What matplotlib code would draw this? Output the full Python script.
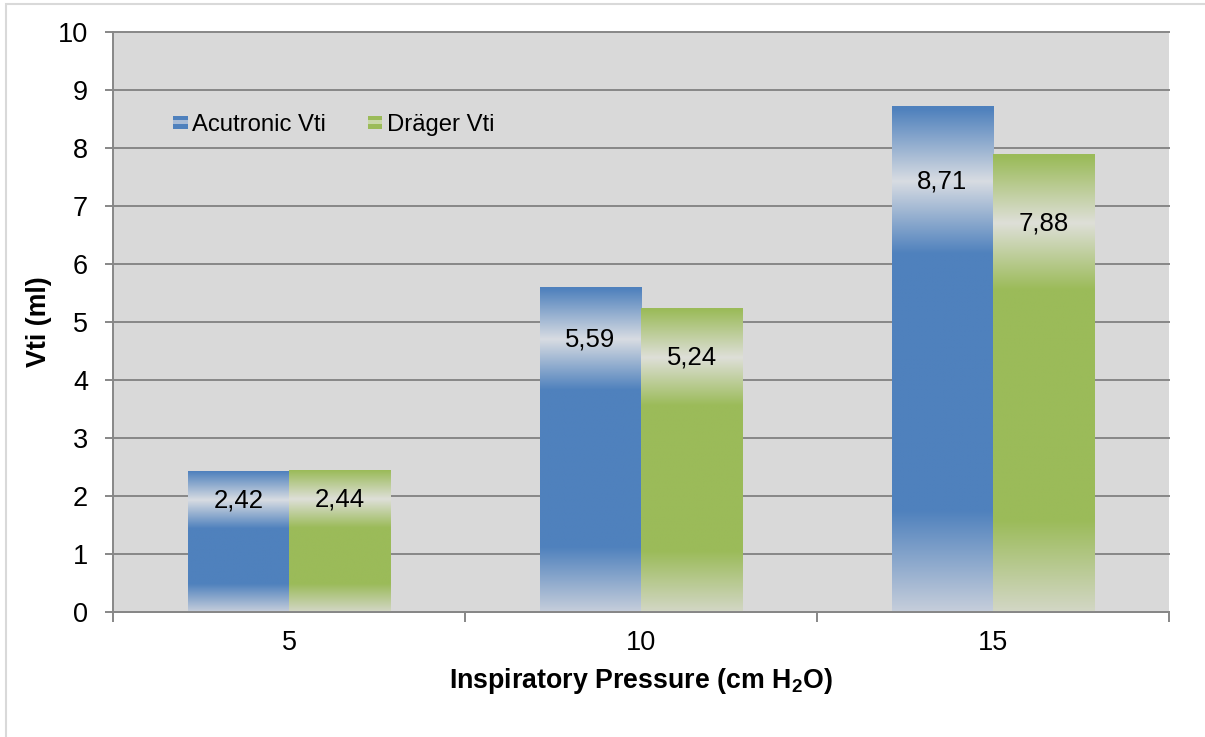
import numpy as np
import matplotlib
matplotlib.use('Agg')
import matplotlib.pyplot as plt
from matplotlib.colors import to_rgb
from matplotlib.patches import Rectangle, Patch
from matplotlib.legend_handler import HandlerBase

# data
pressures = ['5', '10', '15']
acutronic = [2.42, 5.59, 8.71]
drager = [2.44, 5.24, 7.88]
series_names = ['Acutronic Vti', 'Dräger Vti']

blue, blue_band, blue_bottom = '#4f81bd', '#d8dce2', '#c6cedb'
green, green_band, green_bottom = '#9bbb59', '#dedfd8', '#d3d7c6'

plt.rcParams['font.family'] = ['Liberation Sans', 'DejaVu Sans']
plt.rcParams['mathtext.fontset'] = 'custom'
plt.rcParams['mathtext.rm'] = 'Liberation Sans:bold'
plt.rcParams['mathtext.bf'] = 'Liberation Sans:bold'

fig = plt.figure(figsize=(12.05, 7.37), dpi=100)
ax = fig.add_axes([113 / 1205, 1 - 612 / 737, 1056 / 1205, 580 / 737])
ax.set_facecolor('#d9d9d9')

# light grey frame round the whole chart
fig.patches.append(Rectangle((6 / 1205, -0.02), 1.1, 1.02 - 4 / 737, transform=fig.transFigure,
                             fill=False, ec='#d9d9d9', lw=1.5))


def label_pos(v):
    # excel labels sit in the light band of each bar
    return 0.874 * v - 0.19


def shade(bar, v, solid, band, bottom):
    x0, x1 = bar.get_x(), bar.get_x() + bar.get_width()
    lab = label_pos(v)
    hw = 0.12 * v + 0.2
    stops = [0, 0.2 * v, lab - hw, lab, min(lab + hw, v), v]
    cols = [bottom, solid, solid, band, solid, solid]
    ys = np.linspace(0, v, 500)
    rgb = np.array([np.interp(ys, stops, [to_rgb(c)[i] for c in cols]) for i in range(3)]).T
    ax.imshow(rgb[:, None, :], extent=(x0, x1, 0, v), origin='lower', aspect='auto',
              interpolation='bilinear', zorder=2)


x = np.arange(len(pressures))
w = 0.287
for offs, vals, c, cb, cbot in [(-w / 2, acutronic, blue, blue_band, blue_bottom),
                                (w / 2, drager, green, green_band, green_bottom)]:
    bars = ax.bar(x + offs, vals, w, color='none', zorder=2)
    for b, v in zip(bars, vals):
        shade(b, v, c, cb, cbot)
        ax.text(b.get_x() + b.get_width() / 2, label_pos(v), f'{v:.2f}'.replace('.', ','),
                ha='center', va='center', fontsize=18.5, zorder=3)

ax.set_xlim(-0.5, 2.5)
ax.set_ylim(0, 10)
ax.set_yticks(range(11))
ax.set_xticks(x, pressures)
ax.set_xticks([-0.5, 0.5, 1.5, 2.5], minor=True)

gc = '#878787'
ax.set_axisbelow(True)
ax.yaxis.grid(True, color=gc, lw=1.4, zorder=1)
for gl in ax.get_ygridlines():
    gl.set_clip_on(False)
for s in ['top', 'right']:
    ax.spines[s].set_visible(False)
for s in ['left', 'bottom']:
    ax.spines[s].set_color(gc)
    ax.spines[s].set_linewidth(1.4)

ax.tick_params(axis='y', length=6, width=1.4, color=gc, pad=12, labelsize=19.5)
ax.tick_params(axis='x', which='major', length=0, pad=13, labelsize=19.5)
ax.tick_params(axis='x', which='minor', length=7, width=1.4, color=gc)

ax.set_xlabel('Inspiratory Pressure (cm H$_\\mathbf{2}$O)', fontsize=19.3, fontweight='bold', labelpad=7)
ax.set_ylabel('Vti (ml)', fontsize=19.3, fontweight='bold', labelpad=4)


class BandHandler(HandlerBase):
    def create_artists(self, legend, orig_handle, xdescent, ydescent, width, height, fontsize, trans):
        solid = orig_handle.get_facecolor()
        light = orig_handle.get_edgecolor()
        h = height / 3
        out = []
        for i, c in enumerate([solid, light, solid]):
            r = Rectangle((-xdescent, -ydescent + i * h), width, h, fc=c, ec='none', transform=trans)
            out.append(r)
        return out


handles = [Patch(fc=blue, ec='#a9bcd6'), Patch(fc=green, ec='#c9d8aa')]
ax.legend(handles, series_names, loc='center left', bbox_to_anchor=(0.057, 0.84), ncol=2,
          frameon=False, fontsize=17.2, handlelength=0.6, handleheight=0.45, handletextpad=0.2,
          columnspacing=1.75, borderpad=0, borderaxespad=0,
          handler_map={Patch: BandHandler()})

fig.savefig('out.png', dpi=100)
